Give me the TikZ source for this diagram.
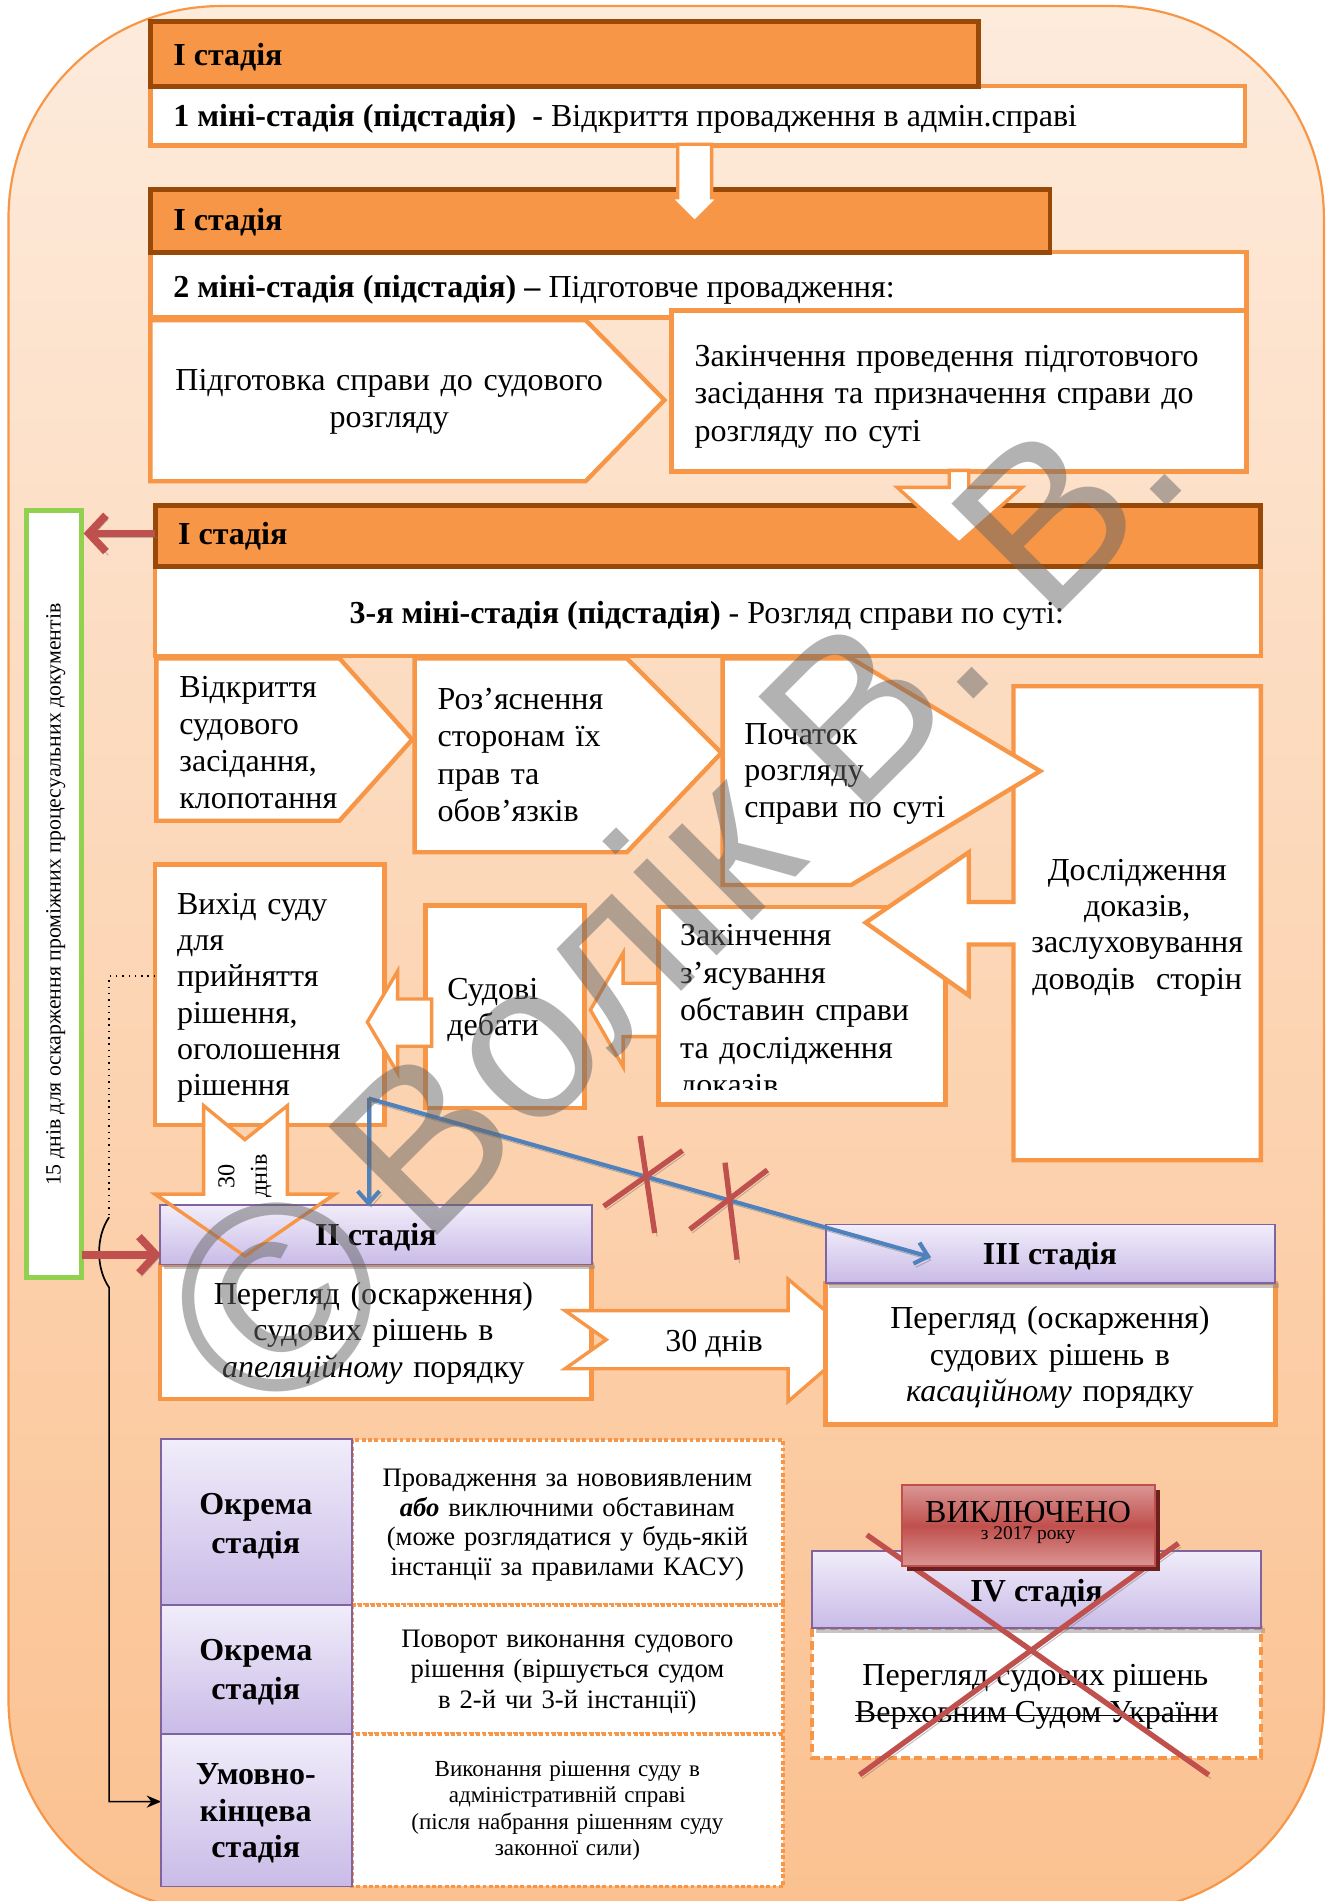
\documentclass[tikz,border=0pt]{standalone}
\usepackage{fontspec}
\setmainfont{Liberation Serif}
\newfontfamily\markfont{Liberation Sans}
\usetikzlibrary{arrows.meta}

\definecolor{orng}{HTML}{F79646}
\definecolor{brwn}{HTML}{984807}
\definecolor{redc}{HTML}{C0504D}
\definecolor{bluec}{HTML}{4F81BD}
\definecolor{grn}{HTML}{92D050}
\definecolor{purp}{HTML}{8064A2}
\definecolor{lavtop}{RGB}{241,237,250}
\definecolor{lavbot}{RGB}{201,187,231}
\definecolor{bgtop}{RGB}{253,235,220}
\definecolor{bgbot}{RGB}{251,193,144}
\definecolor{pinkc}{HTML}{DA9694}
\definecolor{darkred}{RGB}{110,32,30}

\tikzset{
  stagehead/.style={draw=brwn, line width=2pt, fill=orng},
  wbox/.style={draw=orng, line width=1.8pt, fill=white},
  blockarrow/.style={draw=orng, line width=1.4pt, fill=white},
  lavbox/.style={draw=purp, line width=0.8pt, top color=lavtop, bottom color=lavbot},
  dotbox/.style={draw=orng, line width=1.6pt, dash pattern=on 1.6pt off 1pt, fill=white},
  dashbox/.style={draw=orng, line width=1.5pt, dash pattern=on 3.5pt off 1.8pt, fill=white},
  dropshadow/.style={preaction={draw=black!55, draw opacity=0.45, transform canvas={shift={(1pt,-1.5pt)}}}},
  redarrow/.style={draw=redc, line width=3.2pt, dropshadow, -{Straight Barb[length=7pt,width=15pt]}},
  bluearrow/.style={draw=bluec, line width=1.7pt, dropshadow, -{Straight Barb[length=5pt,width=9pt]}},
  crossline/.style={draw=redc, line width=2.2pt, dropshadow},
  txt/.style={font=\fontsize{13.2}{15.25}\selectfont, inner sep=0pt, outer sep=0pt},
  btxt/.style={txt, font=\fontsize{13.2}{15.25}\selectfont\bfseries},
  ltxt/.style={txt, anchor=base west, align=left, text width=#1},
  ctxt/.style={txt, anchor=base, align=center, text width=#1},
  bctxt/.style={btxt, anchor=base, align=center, text width=#1},
}

\begin{document}
\begin{tikzpicture}[x=0.5pt, y=-0.5pt, line join=miter]
\path[use as bounding box] (0,0) rectangle (1095,1568);

% background panel
\begin{scope}
  \clip (0,0) rectangle (1095,1568);
  \path[draw=orng, line width=0.9pt, top color=bgtop, bottom color=bgbot,
        rounded corners=87.5pt] (7,5) rectangle (1092,1577);
\end{scope}

% ---------- stage I, sub-stage 1 ----------
\draw[wbox] (124,71) rectangle (1027,120);
\draw[stagehead] (124,18) rectangle (807,71);
\node[btxt, anchor=base west] (st1) at (143,54) {I стадія};
\node[txt, anchor=base west] (ms1) at (143,104)
  {\textbf{1 міні-стадія (підстадія)\ \ -} Відкриття провадження в адмін.справі};

% ---------- stage I, sub-stage 2 ----------
\draw[wbox] (124,208) rectangle (1028,262);
\draw[stagehead] (124,156) rectangle (866,208);
\draw[blockarrow] (559,119) -- (587,119) -- (587,163) -- (593,163) -- (573,183)
  -- (553,163) -- (559,163) -- cycle;
\node[btxt, anchor=base west] (st2) at (143,190) {I стадія};
\node[txt, anchor=base west] (ms2) at (143,245)
  {\textbf{2 міні-стадія (підстадія) –} Підготовче провадження:};

\draw[wbox] (124,264) -- (483,264) -- (548,330) -- (483,397) -- (124,397) -- cycle;
\node[ctxt=200pt] (prep) at (321,322) {Підготовка справи до судового\\розгляду};
\draw[wbox] (554,256) rectangle (1028,389);
\node[ltxt=230pt, font=\fontsize{13.2}{15.5}\selectfont] (prepend) at (573,302)
  {Закінчення проведення підготовчого\\засідання та призначення справи до\\розгляду по суті};

% ---------- stage I, sub-stage 3 ----------
\draw[wbox] (128,467) rectangle (1040,541);
\draw[stagehead] (128,417) rectangle (1040,467);
\draw[blockarrow] (783,388) -- (799,388) -- (799,402) -- (843,402) -- (791,448)
  -- (740,402) -- (783,402) -- cycle;
\node[btxt, anchor=base west] (st3) at (147,449) {I стадія};
\node[txt, anchor=base] (ms3) at (583,514)
  {\textbf{3-я міні-стадія (підстадія)} - Розгляд справи по суті:};

% green term box
\draw[draw=grn, line width=2pt, fill=white] (22,421) rectangle (67,1054);
\node[rotate=90, font=\fontsize{9}{11}\selectfont, inner sep=0pt] (term) at (46,738)
  {15 днів для оскарження проміжних процесуальних документів};
\coordinate (h3w) at (128,440);
\coordinate (gin) at (69,440);
\draw[redarrow] (h3w) -- (gin);

% end of clarification
\draw[wbox] (543,748) rectangle (780,911);
\begin{scope}
  \clip (545,750) rectangle (778,899);
  \node[ltxt=112pt, font=\fontsize{13.2}{15.5}\selectfont] (endinv) at (561,780)
    {Закінчення\\з’ясування\\обставин справи\\та дослідження\\доказів};
\end{scope}

% examination of evidence
\draw[wbox] (836,566) -- (1040,566) -- (1040,957) -- (836,957) -- (836,779) -- (799,779)
  -- (799,821) -- (714,761) -- (799,703) -- (799,744) -- (836,744) -- cycle;
\node[ctxt=100pt, font=\fontsize{13.2}{15}\selectfont] (evid) at (938,726)
  {Дослідження\\доказів,\\заслуховування\\доводів\ \ сторін};

% chevrons of the hearing
\draw[wbox] (596,543) -- (702,543) -- (858,636) -- (702,730) -- (596,730) -- cycle;
\node[ltxt=110pt, font=\fontsize{13.2}{15}\selectfont] (merits) at (614,614)
  {Початок\\розгляду\\справи по суті};
\draw[wbox] (342,543) -- (517,543) -- (595,621) -- (517,703) -- (342,703) -- cycle;
\node[ltxt=110pt, font=\fontsize{13.2}{15.5}\selectfont] (rights) at (361,585)
  {Роз’яснення\\сторонам їх\\прав та\\обов’язків};
\draw[wbox] (129,543) -- (280,543) -- (340,610) -- (280,677) -- (129,677) -- cycle;
\node[ltxt=90pt] (open) at (148,575) {Відкриття\\судового\\засідання,\\клопотання};

% decision and debates
\draw[wbox] (128,713) rectangle (317,928);
\node[ltxt=90pt, font=\fontsize{13.2}{15}\selectfont] (decide) at (146,754)
  {Вихід суду\\для\\прийняття\\рішення,\\оголошення\\рішення};
\draw[wbox] (351,747) rectangle (482,914);
\node[ltxt=60pt] (debate) at (369,824) {Судові\\дебати};
\draw[blockarrow] (543,811) -- (514,811) -- (514,786) -- (487,833) -- (514,880)
  -- (514,855) -- (543,855) -- cycle;
\draw[blockarrow] (356,824) -- (328,824) -- (328,801) -- (303,843) -- (328,885)
  -- (328,863) -- (356,863) -- cycle;

% 30 days down to appeal
\draw[blockarrow] (168,912) -- (202,940) -- (237,912) -- (237,985) -- (276,985)
  -- (202,1036) -- (128,985) -- (168,985) -- cycle;

% ---------- stage II ----------
\draw[wbox] (132,1043) rectangle (488,1154);
\fill[black!45, opacity=0.5] (135,1043) rectangle (491,1047);
\draw[lavbox] (132,994) rectangle (488,1043);
\draw[draw=orng, line width=1.4pt] (237,985) -- (276,985) -- (202,1036) -- (128,985) -- (168,985);
\node[rotate=90, align=center, font=\fontsize{10}{13.5}\selectfont, inner sep=0pt] (d30v)
  at (202,970) {30\\днів};
\node[btxt, anchor=base] (st2b) at (310,1027) {II стадія};
\node[ctxt=170pt, font=\fontsize{13.2}{15}\selectfont] (appeal) at (308,1076)
  {Перегляд (оскарження)\\судових рішень в\\\textit{апеляційному} порядку};

\draw[blockarrow] (466,1081) -- (650,1081) -- (650,1055) -- (709,1105) -- (650,1156)
  -- (650,1129) -- (466,1129) -- (500,1105) -- cycle;
\node[txt, anchor=base] (d30h) at (589,1115) {30 днів};

% ---------- stage III ----------
\draw[wbox] (681,1058) rectangle (1052,1175);
\fill[black!45, opacity=0.5] (684,1058) rectangle (1055,1062);
\draw[lavbox] (681,1010) rectangle (1052,1058);
\node[btxt, anchor=base] (st3b) at (866,1043) {III стадія};
\node[ctxt=180pt, font=\fontsize{13.2}{15}\selectfont] (cass) at (866,1096)
  {Перегляд (оскарження)\\судових рішень в\\\textit{касаційному} порядку};

% blue routes and crossed-out direct route
\coordinate (bsrc) at (304,906);
\coordinate (bii) at (304,995);
\coordinate (biii) at (768,1037);
\draw[bluearrow] (bsrc) -- (bii);
\draw[bluearrow] (bsrc) -- (biii);
\draw[crossline] (528,937) -- (540,1017);
\draw[crossline] (498,995) -- (563,949);
\draw[crossline] (598,959) -- (608,1039);
\draw[crossline] (569,1014) -- (633,965);

% route to final stage
\coordinate (decw) at (128,805);
\coordinate (finw) at (133,1486);
\draw[line width=0.6pt, dotted] (decw) -- (90,805) -- (90,1004);
\draw[line width=0.7pt, -{Stealth[length=6pt,width=5pt]}] (90,1004)
  .. controls (79,1020) and (79,1046) .. (90,1062) -- (90,1486) -- (finw);
\coordinate (gout) at (68,1035);
\coordinate (iiw) at (133,1035);
\draw[redarrow] (gout) -- (iiw);

% ---------- separate stages ----------
\draw[dotbox] (290,1188) rectangle (646,1324);
\draw[dotbox] (290,1324) rectangle (646,1430);
\draw[dotbox] (290,1430) rectangle (646,1556);
\draw[lavbox] (133,1187) rectangle (290,1324);
\draw[lavbox] (133,1324) rectangle (290,1430);
\draw[lavbox] (133,1430) rectangle (290,1556);
\node[bctxt=70pt, font=\fontsize{13.2}{16}\selectfont\bfseries] (sep1) at (211,1249) {Окрема\\стадія};
\node[bctxt=70pt, font=\fontsize{13.2}{16}\selectfont\bfseries] (sep2) at (211,1370) {Окрема\\стадія};
\node[bctxt=70pt, font=\fontsize{13.2}{15}\selectfont\bfseries] (fin) at (211,1472) {Умовно-\\кінцева\\стадія};
\node[ctxt=170pt, font=\fontsize{11}{12.25}\selectfont] (newfacts) at (468,1226)
  {Провадження за нововиявленим\\\textbf{\textit{або}} виключними обставинам\\(може розглядатися у будь-якій\\інстанції за правилами КАСУ)};
\node[ctxt=170pt, font=\fontsize{11}{12.5}\selectfont] (reversal) at (468,1359)
  {Поворот виконання судового\\рішення (віршується судом\\в 2-й чи 3-й інстанції)};
\node[ctxt=170pt, font=\fontsize{9.5}{10.9}\selectfont] (exec) at (468,1465)
  {Виконання рішення суду в\\адміністративній справі\\(після набрання рішенням суду\\законної сили)};

% ---------- stage IV (excluded) ----------
\draw[dashbox] (670,1343) rectangle (1040,1450);
\fill[black!45, opacity=0.5] (673,1343) rectangle (1043,1347);
\draw[lavbox] (670,1279) rectangle (1040,1343);
\node[btxt, anchor=base] (st4) at (855,1321) {IV стадія};
\node[txt, anchor=base] (sc1) at (854,1390) {Перегляд судових рішень};
\node[txt, anchor=base] (sc2) at (855,1421) {Верховним Судом України};
\draw[line width=0.8pt] ([yshift=3pt]sc2.base west) -- ([yshift=3pt]sc2.base east);
\draw[crossline] (715,1266) -- (997,1464);
\draw[crossline] (972,1273) -- (709,1464);
\fill[darkred] (748,1229) rectangle (957,1296);
\draw[draw=redc, line width=0.8pt, top color=pinkc, bottom color=pinkc, middle color=redc]
  (744,1225) rectangle (953,1292);
\node[txt, anchor=base] (excl) at (848,1256) {ВИКЛЮЧЕНО};
\node[inner sep=0pt, anchor=base, font=\fontsize{8}{9}\selectfont] (exyear) at (848,1270) {з 2017 року};

% author mark
\node[font=\markfont\fontsize{92}{92}\selectfont, text=black!60, text opacity=0.5,
      rotate=45, anchor=base east, inner sep=0pt] (wmark) at (987,393)
  {\raisebox{-0.1em}{\scalebox{1.2}{©}}\hspace{17pt}Волік В. В.};
\end{tikzpicture}
\end{document}
